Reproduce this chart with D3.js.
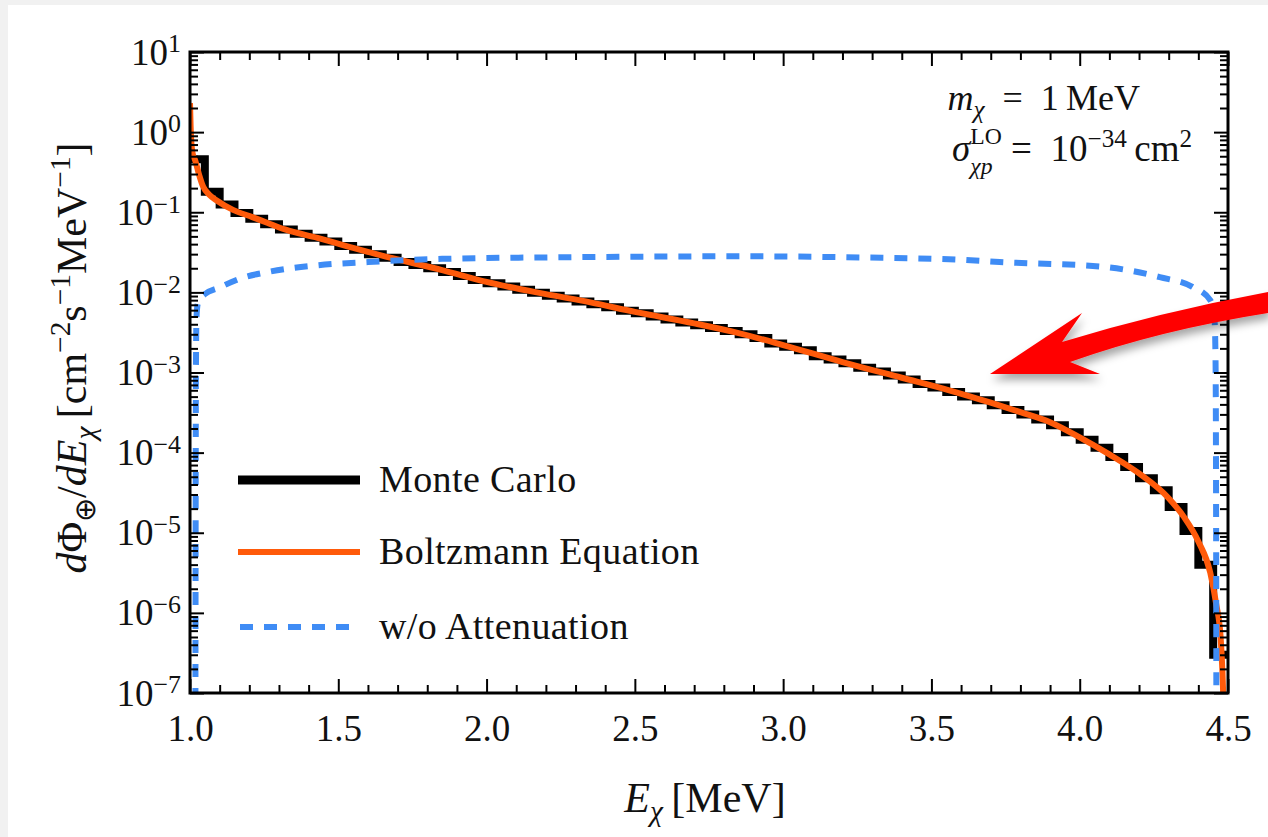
<!DOCTYPE html>
<html>
<head>
<meta charset="utf-8">
<script src="https://cdn.jsdelivr.net/npm/d3@7"></script>
<style>
  html, body { margin: 0; padding: 0; background: #f1f1f1; }
  svg { display: block; }
  text { font-family: "Liberation Serif", "Times New Roman", serif; fill: #111; }
</style>
</head>
<body>
<svg id="chart" width="1268" height="837"></svg>
<script>
// ---- Monte Carlo histogram: 0.05 MeV bins starting at 1.0 MeV ----
const mcBinStart = 1.0;
const mcBinWidth = 0.05;
const mcFlux = [
  0.46, 0.18, 0.125, 0.098, 0.083, 0.071, 0.061, 0.054, 0.048, 0.043,
  0.038, 0.034, 0.030, 0.027, 0.024, 0.022, 0.020, 0.018, 0.016, 0.0143,
  0.0130, 0.0118, 0.0108, 0.0099, 0.0091, 0.0084, 0.0077, 0.0071, 0.0065, 0.0059,
  0.0055, 0.0050, 0.0046, 0.0042, 0.0039, 0.0036, 0.0033, 0.0030, 0.0027, 0.0023,
  0.0021, 0.0019, 0.0016, 0.00145, 0.0013, 0.00115, 0.00103, 0.00092, 0.00082, 0.00072,
  0.00065, 0.00057, 0.00050, 0.00045, 0.00039, 0.00034, 0.00030, 0.00026, 0.00022, 0.00018,
  0.000145, 0.000115, 0.000088, 0.000066, 0.000048, 0.000034, 0.000021, 0.0000105, 0.0000040, 0.0000003
];

// ---- Boltzmann equation solution ----
const boltzE = [
  1.000, 1.002, 1.005, 1.010, 1.017, 1.030, 1.044, 1.065, 1.090, 1.145,
  1.21, 1.26, 1.32, 1.43, 1.55, 1.66, 1.85, 2.00, 2.20, 2.35,
  2.50, 2.70, 2.85, 3.00, 3.20, 3.40, 3.56, 3.70, 3.80, 3.90,
  4.00, 4.10, 4.20, 4.30, 4.35, 4.40, 4.44, 4.46, 4.475, 4.483, 4.486
];
const boltzFlux = [
  2.3, 1.2, 0.7, 0.52, 0.45, 0.30, 0.21, 0.165, 0.14, 0.107,
  0.087, 0.074, 0.061, 0.048, 0.036, 0.028, 0.019, 0.0135, 0.0095, 0.0075,
  0.0057, 0.0041, 0.0031, 0.0022, 0.00135, 0.00086, 0.00060, 0.00042, 0.00032, 0.00024,
  0.000155, 0.000095, 0.000055, 0.000027, 0.000016, 0.0000078, 0.0000032, 0.0000013, 0.0000005, 0.00000012, 0.00000005
];

// ---- Flux without attenuation ----
const freeE = [
  1.018, 1.019, 1.020, 1.022, 1.027, 1.05, 1.094, 1.175, 1.26, 1.43,
  1.60, 1.85, 2.30, 2.85, 3.20, 3.60, 3.73, 4.07, 4.27, 4.38,
  4.44, 4.455, 4.458, 4.460, 4.461
];
const freeFlux = [
  1e-8, 1e-5, 1e-3, 0.005, 0.0074, 0.0095, 0.0113, 0.0151, 0.0179, 0.0218,
  0.0239, 0.0262, 0.0275, 0.0282, 0.0275, 0.0255, 0.0239, 0.021, 0.0155, 0.0117,
  0.0080, 0.0042, 0.0014, 1e-5, 1e-8
];

const xTicks = [1.0, 1.5, 2.0, 2.5, 3.0, 3.5, 4.0, 4.5];
const yDecades = [-7, -6, -5, -4, -3, -2, -1, 0, 1];
const legendLabels = ["Monte Carlo", "Boltzmann Equation", "w/o Attenuation"];

const colors = { mc: "#000000", boltz: "#ff5a0a", free: "#3f8cf5", arrow: "#ff0000" };

const W = 1268, H = 837;
const plot = { left: 190, right: 1228, top: 52, bottom: 693 };

const svg = d3.select("#chart");

// white card
svg.append("rect").attr("x", 8).attr("y", 5).attr("width", W - 8).attr("height", H - 5).attr("fill", "#fff");

const x = d3.scaleLinear().domain([1, 4.5]).range([plot.left, plot.right]);
const y = d3.scaleLog().domain([1e-7, 10]).range([plot.bottom, plot.top]);

// rich text helper: parts = [{t, it, sup, sub, s, raise, drop, under}]
// "under" places a subscript directly beneath the preceding superscript.
function rich(sel, parts, fs) {
  let off = 0;
  let prev = null;
  parts.forEach(p => {
    const target = p.sup ? -(p.raise || 0.38) * fs : p.sub ? (p.drop || 0.22) * fs : 0;
    const size = (p.sup || p.sub) ? (p.s || 0.7) * fs : fs;
    const ts = sel.append("tspan")
      .attr("dy", (target - off).toFixed(2))
      .style("font-size", size + "px")
      .style("font-style", p.it ? "italic" : "normal")
      .text(p.t);
    if (p.under && prev) ts.attr("dx", -prev.node().getComputedTextLength());
    off = target;
    prev = ts;
  });
}

// clip
svg.append("clipPath").attr("id", "plotClip")
  .append("rect").attr("x", plot.left).attr("y", plot.top - 60)
  .attr("width", plot.right - plot.left).attr("height", plot.bottom - plot.top + 60);

const g = svg.append("g").attr("clip-path", "url(#plotClip)");

// Monte Carlo step histogram
const mcPts = mcFlux.map((v, i) => [mcBinStart + i * mcBinWidth, v]);
mcPts.push([mcBinStart + mcFlux.length * mcBinWidth, mcFlux[mcFlux.length - 1]]);
g.append("path")
  .datum(mcPts)
  .attr("fill", "none")
  .attr("stroke", colors.mc)
  .attr("stroke-width", 8)
  .attr("d", d3.line().x(d => x(d[0])).y(d => y(d[1])).curve(d3.curveStepAfter));

// Boltzmann curve
g.append("path")
  .datum(boltzE.map((e, i) => [e, boltzFlux[i]]))
  .attr("fill", "none")
  .attr("stroke", colors.boltz)
  .attr("stroke-width", 6)
  .attr("d", d3.line().x(d => x(d[0])).y(d => y(d[1])).curve(d3.curveMonotoneX));

// No-attenuation curve
g.append("path")
  .datum(freeE.map((e, i) => [e, freeFlux[i]]))
  .attr("fill", "none")
  .attr("stroke", colors.free)
  .attr("stroke-width", 6)
  .attr("stroke-dasharray", "13 11")
  .attr("d", d3.line().x(d => x(d[0])).y(d => y(d[1])).curve(d3.curveMonotoneX));

// ---- axes: inward ticks on all four sides ----
const xMinor = d3.range(10, 46).map(v => v / 10).filter(v => Math.abs(v * 2 - Math.round(v * 2)) > 1e-6);
const yMinor = [];
for (let d = -7; d < 1; d++) for (let m = 2; m <= 9; m++) yMinor.push(m * Math.pow(10, d));

function styleAxis(sel) {
  sel.select(".domain").remove();
  sel.selectAll(".tick line").attr("stroke", "#000").attr("stroke-width", 2);
}

const axes = svg.append("g");
// bottom
axes.append("g").attr("transform", `translate(0,${plot.bottom})`)
  .call(d3.axisBottom(x).tickValues(xTicks).tickSizeInner(-14).tickSizeOuter(0).tickPadding(22).tickFormat(d3.format(".1f")))
  .call(styleAxis)
  .call(s => s.selectAll("text").style("font-size", "37px").style("font-family", "Liberation Serif").attr("fill", "#111").attr("dy", "0.71em"));
axes.append("g").attr("transform", `translate(0,${plot.bottom})`)
  .call(d3.axisBottom(x).tickValues(xMinor).tickSizeInner(-8).tickSizeOuter(0).tickFormat(""))
  .call(styleAxis);
// top
axes.append("g").attr("transform", `translate(0,${plot.top})`)
  .call(d3.axisTop(x).tickValues(xTicks).tickSizeInner(-14).tickSizeOuter(0).tickFormat(""))
  .call(styleAxis);
axes.append("g").attr("transform", `translate(0,${plot.top})`)
  .call(d3.axisTop(x).tickValues(xMinor).tickSizeInner(-8).tickSizeOuter(0).tickFormat(""))
  .call(styleAxis);
// left
const yMajorVals = yDecades.map(d => Math.pow(10, d));
const leftAxis = axes.append("g").attr("transform", `translate(${plot.left},0)`)
  .call(d3.axisLeft(y).tickValues(yMajorVals).tickSizeInner(-14).tickSizeOuter(0).tickFormat(""))
  .call(styleAxis);
axes.append("g").attr("transform", `translate(${plot.left},0)`)
  .call(d3.axisLeft(y).tickValues(yMinor).tickSizeInner(-8).tickSizeOuter(0).tickFormat(""))
  .call(styleAxis);
// right
axes.append("g").attr("transform", `translate(${plot.right},0)`)
  .call(d3.axisRight(y).tickValues(yMajorVals).tickSizeInner(-14).tickSizeOuter(0).tickFormat(""))
  .call(styleAxis);
axes.append("g").attr("transform", `translate(${plot.right},0)`)
  .call(d3.axisRight(y).tickValues(yMinor).tickSizeInner(-8).tickSizeOuter(0).tickFormat(""))
  .call(styleAxis);

// y tick labels 10^n
leftAxis.selectAll(".tick").each(function(d) {
  const n = Math.round(Math.log10(d));
  const t = d3.select(this).append("text")
    .attr("x", -9).attr("y", 12).attr("text-anchor", "end")
    .style("font-size", "37px");
  rich(t, [{ t: "10" }, { t: (n < 0 ? "\u2212" : "") + Math.abs(n), sup: true, raise: 0.33 }], 37);
});

// frame
svg.append("rect")
  .attr("x", plot.left).attr("y", plot.top)
  .attr("width", plot.right - plot.left).attr("height", plot.bottom - plot.top)
  .attr("fill", "none").attr("stroke", "#000").attr("stroke-width", 3);

// axis titles
const xt = svg.append("text").attr("x", 705).attr("y", 812).attr("text-anchor", "middle").style("font-size", "42px");
rich(xt, [{ t: "E", it: true }, { t: "\u03c7", it: true, sub: true }, { t: "\u2009[MeV]" }], 42);

const yt = svg.append("text").attr("transform", "translate(86,358) rotate(-90)").attr("text-anchor", "middle").style("font-size", "42px");
rich(yt, [
  { t: "d", it: true }, { t: "\u03a6" }, { t: "\u2295", sub: true },
  { t: "/" }, { t: "dE", it: true }, { t: "\u03c7", it: true, sub: true },
  { t: "\u2009[cm" }, { t: "\u22122", sup: true }, { t: "s" }, { t: "\u22121", sup: true },
  { t: "MeV" }, { t: "\u22121", sup: true }, { t: "]" }
], 42);

// annotation
const a1 = svg.append("text").attr("x", 1140).attr("y", 110).attr("text-anchor", "end").style("font-size", "36px");
rich(a1, [{ t: "m", it: true }, { t: "\u03c7", it: true, sub: true }, { t: "\u2002=\u20021\u2009MeV" }], 36);
const a2 = svg.append("text").attr("x", 1192).attr("y", 161).attr("text-anchor", "end").style("font-size", "37px");
rich(a2, [{ t: "\u03c3", it: true }, { t: "LO", sup: true, raise: 0.47, s: 0.64 },
  { t: "\u03c7p", it: true, sub: true, drop: 0.36, s: 0.64, under: true },
  { t: "\u2002=\u200210" }, { t: "\u221234", sup: true, s: 0.68 }, { t: "\u2009cm" }, { t: "2", sup: true, s: 0.68 }], 37);

// legend
const legendY = [480, 552, 627];
const legend = svg.append("g");
legendLabels.forEach((lab, i) => {
  const line = legend.append("line")
    .attr("x1", 238).attr("x2", 360).attr("y1", legendY[i]).attr("y2", legendY[i]);
  if (i === 0) line.attr("stroke", colors.mc).attr("stroke-width", 9);
  if (i === 1) line.attr("stroke", colors.boltz).attr("stroke-width", 6);
  if (i === 2) line.attr("stroke", colors.free).attr("stroke-width", 6).attr("stroke-dasharray", "13 11").attr("x1", 240).attr("x2", 352);
  legend.append("text").attr("x", 379).attr("y", legendY[i] + 12)
    .style("font-size", "38px").style("letter-spacing", "0.4px").text(lab);
});

// pointer arrow with drop shadow
const defs = svg.append("defs");
const f = defs.append("filter").attr("id", "shadow").attr("x", "-20%").attr("y", "-20%").attr("width", "140%").attr("height", "160%");
f.append("feDropShadow").attr("dx", 2).attr("dy", 6).attr("stdDeviation", 4).attr("flood-color", "#000").attr("flood-opacity", 0.35);

const arrowPath = d3.path();
arrowPath.moveTo(990, 374);
arrowPath.lineTo(1082, 313);
arrowPath.lineTo(1062, 342);
arrowPath.quadraticCurveTo(1160, 312, 1268, 292);
arrowPath.lineTo(1268, 313);
arrowPath.quadraticCurveTo(1160, 330, 1070, 362);
arrowPath.lineTo(1100, 374);
arrowPath.closePath();
svg.append("path").attr("d", arrowPath.toString()).attr("fill", colors.arrow).attr("filter", "url(#shadow)");
</script>
</body>
</html>
